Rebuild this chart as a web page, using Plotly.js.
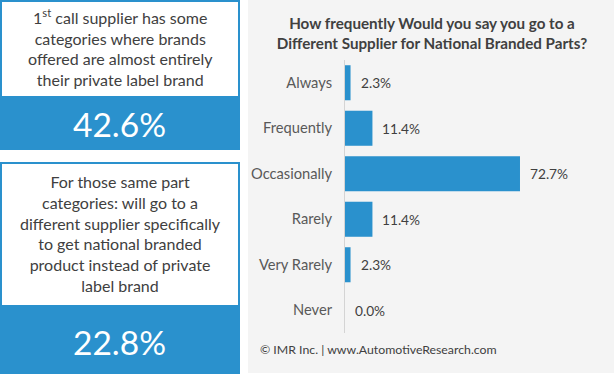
<!DOCTYPE html>
<html><head><meta charset="utf-8">
<script src="https://cdn.plot.ly/plotly-3.0.1.min.js"></script>
<style>html,body{margin:0;padding:0;background:#fff}#chart{width:614px;height:384px}</style>
</head><body><div id="chart"></div>
<script>
// Data
const categories = ["Always","Frequently","Occasionally","Rarely","Very Rarely","Never"];
const values = [2.3, 11.4, 72.7, 11.4, 2.3, 0.0];
const stat1Label = "1<sup>st</sup> call supplier has some<br>categories where brands<br>offered are almost entirely<br>their private label brand";
const stat1Value = "42.6%";
const stat2Label = "For those same part<br>categories: will go to a<br>different supplier specifically<br>to get national branded<br>product instead of private<br>label brand";
const stat2Value = "22.8%";
const chartTitle = "How frequently Would you say you go to a<br>Different Supplier for National Branded Parts?";
const footer = "© IMR Inc. | www.AutomotiveResearch.com";

const W = 614, H = 384;
const M = {l: 345, r: 10, t: 60, b: 51};
const pw = W - M.l - M.r, ph = H - M.t - M.b;
const px = x => (x - M.l) / pw;
const py = y => 1 - (y - M.t) / ph;

const blue = "#2a91cd";
const txt = "#404040";
const FONT = "Lato, 'Open Sans', sans-serif";

const shapes = [
  {type:"rect", xref:"paper", yref:"paper", x0:px(248), x1:px(614), y0:py(0), y1:py(373), fillcolor:"#f4f4f4", line:{width:0}, layer:"below"},
  {type:"rect", xref:"paper", yref:"paper", x0:px(0), x1:px(240), y0:py(0), y1:py(150), fillcolor:blue, line:{width:0}, layer:"below"},
  {type:"rect", xref:"paper", yref:"paper", x0:px(2), x1:px(238), y0:py(2), y1:py(96), fillcolor:"#ffffff", line:{width:0}, layer:"below"},
  {type:"rect", xref:"paper", yref:"paper", x0:px(0), x1:px(240), y0:py(162), y1:py(374), fillcolor:blue, line:{width:0}, layer:"below"},
  {type:"rect", xref:"paper", yref:"paper", x0:px(2), x1:px(238), y0:py(164), y1:py(305), fillcolor:"#ffffff", line:{width:0}, layer:"below"}
];

const annotations = [
  {xref:"paper", yref:"paper", x:px(120), y:py(48), text:stat1Label, showarrow:false, xanchor:"center", yanchor:"middle", align:"center", font:{family:FONT, size:16, color:txt}},
  {xref:"paper", yref:"paper", x:px(119), y:py(124), text:stat1Value, showarrow:false, xanchor:"center", yanchor:"middle", font:{family:FONT, size:33.5, color:"#ffffff"}},
  {xref:"paper", yref:"paper", x:px(120), y:py(233), text:stat2Label, showarrow:false, xanchor:"center", yanchor:"middle", align:"center", font:{family:FONT, size:16, color:txt}},
  {xref:"paper", yref:"paper", x:px(119), y:py(342), text:stat2Value, showarrow:false, xanchor:"center", yanchor:"middle", font:{family:FONT, size:33.5, color:"#ffffff"}},
  {xref:"paper", yref:"paper", x:px(258), y:py(349), text:footer, showarrow:false, xanchor:"left", yanchor:"middle", font:{family:FONT, size:12.3, color:txt}}
];
categories.forEach((c, i) => {
  annotations.push({xref:"x", yref:"y", x:values[i], y:c, text:values[i].toFixed(1) + "%", showarrow:false, xanchor:"left", yanchor:"middle", xshift:8, font:{family:FONT, size:13.7, color:txt}});
});

const trace = {
  type:"bar", orientation:"h", x:values, y:categories,
  marker:{color:blue}, width:0.77, hoverinfo:"skip"
};

const layout = {
  width:W, height:H, margin:M,
  paper_bgcolor:"#ffffff", plot_bgcolor:"rgba(0,0,0,0)",
  showlegend:false,
  title:{text:chartTitle, xref:"container", yref:"container", x:432/W, y:1-29/H, xanchor:"center", yanchor:"middle",
         font:{family:FONT, size:15.2, color:txt, weight:"bold"}},
  xaxis:{range:[0,107.6], visible:false, fixedrange:true},
  yaxis:{autorange:"reversed", type:"category", showline:true, linecolor:"#d4d4d4", linewidth:1,
         showgrid:false, zeroline:false, ticks:"", ticklabelstandoff:9,
         tickfont:{family:FONT, size:14.7, color:"#595959"}},
  shapes:shapes, annotations:annotations
};

Plotly.newPlot("chart", [trace], layout, {staticPlot:true, displayModeBar:false});
</script></body></html>
